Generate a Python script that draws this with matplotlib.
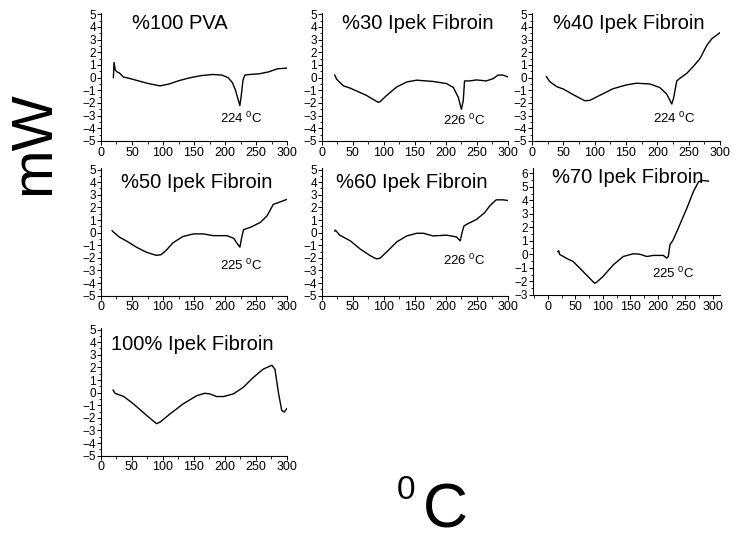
import matplotlib
matplotlib.use("Agg")
import matplotlib.pyplot as plt
from matplotlib.ticker import MultipleLocator

plt.rcParams['font.family'] = ['Liberation Sans', 'DejaVu Sans']
plt.rcParams['mathtext.fontset'] = 'custom'
plt.rcParams['mathtext.rm'] = 'Liberation Sans'
plt.rcParams['mathtext.it'] = 'Liberation Sans'

# ---- data (temperature in degC, heat flow in mW) ----
pva_T = [20, 21, 23, 26, 30, 36, 45, 60, 75, 95, 110, 125, 140, 160, 180, 195, 205, 212, 217, 221, 224, 226, 229, 232, 240, 255, 270, 285, 300]
pva_v = [0.0, 1.2, 0.6, 0.45, 0.35, 0.05, -0.05, -0.25, -0.45, -0.65, -0.5, -0.25, -0.05, 0.15, 0.25, 0.2, 0.0, -0.4, -1.0, -1.7, -2.2, -1.5, -0.2, 0.2, 0.25, 0.3, 0.45, 0.7, 0.75]

f30_T = [21, 22, 24, 35, 46, 72, 91, 94, 104, 121, 137, 153, 179, 201, 212, 220, 225, 228, 230, 238, 249, 265, 276, 284, 292, 300]
f30_v = [0.2, 0.1, -0.13, -0.65, -0.83, -1.4, -1.95, -1.9, -1.43, -0.73, -0.34, -0.2, -0.3, -0.47, -0.78, -1.56, -2.5, -1.8, -0.26, -0.26, -0.18, -0.26, -0.08, 0.2, 0.2, 0.05]

f40_T = [23, 28, 39, 50, 66, 84, 92, 108, 129, 151, 167, 188, 204, 215, 223, 226, 231, 236, 247, 257, 268, 279, 287, 300]
f40_v = [0.08, -0.3, -0.7, -0.9, -1.35, -1.82, -1.8, -1.4, -0.88, -0.57, -0.44, -0.5, -0.78, -1.3, -2.08, -1.6, -0.26, -0.05, 0.34, 0.86, 1.5, 2.55, 3.07, 3.55]

f50_T = [18, 20, 30, 40, 57, 73, 89, 97, 105, 116, 132, 149, 165, 181, 203, 214, 220, 224, 227, 230, 241, 257, 268, 278, 286, 300]
f50_v = [0.15, 0.05, -0.37, -0.63, -1.15, -1.55, -1.8, -1.75, -1.41, -0.81, -0.31, -0.1, -0.1, -0.24, -0.24, -0.45, -0.89, -1.15, -0.37, 0.24, 0.42, 0.81, 1.34, 2.25, 2.38, 2.64]

f60_T = [21, 22, 29, 46, 62, 78, 88, 94, 104, 121, 137, 153, 164, 179, 201, 217, 223, 226, 229, 233, 249, 262, 271, 281, 292, 300]
f60_v = [0.13, 0.2, -0.2, -0.65, -1.3, -1.82, -2.08, -2.03, -1.56, -0.73, -0.26, -0.05, -0.05, -0.26, -0.2, -0.34, -0.65, 0.0, 0.52, 0.65, 1.04, 1.56, 2.14, 2.6, 2.6, 2.55]

f70_T = [18, 20, 21, 33, 46, 64, 76, 85, 88, 100, 119, 137, 155, 167, 180, 192, 210, 216, 219, 222, 228, 240, 253, 265, 274, 280, 292]
f70_v = [0.22, 0.27, 0.02, -0.27, -0.52, -1.26, -1.76, -2.13, -2.08, -1.64, -0.77, -0.15, 0.05, 0.02, -0.15, -0.07, -0.07, -0.27, -0.15, 0.72, 1.09, 2.21, 3.45, 4.69, 5.38, 5.48, 5.43]

f100_T = [20, 23, 37, 53, 74, 90, 96, 112, 133, 155, 168, 176, 187, 198, 214, 230, 246, 262, 276, 281, 287, 292, 296, 300]
f100_v = [0.2, -0.05, -0.3, -0.9, -1.8, -2.46, -2.33, -1.68, -0.89, -0.24, -0.05, -0.1, -0.31, -0.31, -0.1, 0.42, 1.2, 1.86, 2.17, 1.86, -0.1, -1.41, -1.54, -1.28]

titles = ["%100 PVA", "%30 Ipek Fibroin", "%40 Ipek Fibroin", "%50 Ipek Fibroin",
          "%60 Ipek Fibroin", "%70 Ipek Fibroin", "100% Ipek Fibroin"]
peak_labels = ["224", "226", "224", "225", "226", "225", None]

W, H = 750, 542
fig = plt.figure(figsize=(W / 100, H / 100), dpi=100)

def fr(x0, y0, x1, y1):
    return [x0 / W, 1 - y1 / H, (x1 - x0) / W, (y1 - y0) / H]

boxes = [fr(101, 13, 287, 141), fr(321.7, 13, 508, 141), fr(532, 13, 720, 141),
         fr(101, 168.3, 287, 295.7), fr(321.7, 168.3, 508, 295.7), fr(533, 168, 720, 295),
         fr(100.7, 328.3, 286.7, 455.7)]
series = [(pva_T, pva_v), (f30_T, f30_v), (f40_T, f40_v), (f50_T, f50_v),
          (f60_T, f60_v), (f70_T, f70_v), (f100_T, f100_v)]
title_pos = [(50, 5.0), (32, 5.0), (33, 5.0), (33, 4.7), (23, 4.7), (7, 6.4), (16, 4.6)]
peak_pos = [(192, -3.2), (196, -3.4), (193, -3.2), (192, -2.6), (195, -2.2), (190, -1.4), None]

for i, (box, (T, v)) in enumerate(zip(boxes, series)):
    ax = fig.add_axes(box)
    ax.plot(T, v, color='black', lw=1.0)
    if i == 5:
        ax.set_xlim(-27, 313)
        ax.set_ylim(-3, 6.4)
        ax.set_yticks(range(-3, 7))
    else:
        ax.set_xlim(0, 300)
        ax.set_ylim(-5, 5.1)
        ax.set_yticks(range(-5, 6))
    ax.set_xticks(range(0, 301, 50))
    ax.xaxis.set_minor_locator(MultipleLocator(25))
    ax.yaxis.set_minor_locator(MultipleLocator(0.5))
    for s in ['top', 'right']:
        ax.spines[s].set_visible(False)
    for s in ['left', 'bottom']:
        ax.spines[s].set_linewidth(0.8)
    ax.tick_params(which='major', length=3, width=0.7, labelsize=9, pad=1)
    ax.tick_params(axis='y', which='major', labelsize=8.5, pad=0.5)
    ax.tick_params(which='minor', length=1.8, width=0.6)
    ax.patch.set_alpha(0)
    tx, ty = title_pos[i]
    ax.text(tx, ty, titles[i], fontsize=14.5, ha='left', va='top', clip_on=False)
    if peak_labels[i] is not None:
        px, py = peak_pos[i]
        ax.text(px, py, peak_labels[i] + r' $^{0}$C', fontsize=9.5, ha='left', va='center')

fig.text(34 / W, 1 - 143 / H, "mW", rotation=90, fontsize=42, ha='center', va='center')
fig.text(406 / W, 1 - 499 / H, "0", fontsize=24, ha='center', va='baseline')
fig.text(445 / W, 1 - 528 / H, "C", fontsize=45, ha='center', va='baseline')

fig.savefig("out.png", dpi=100)
